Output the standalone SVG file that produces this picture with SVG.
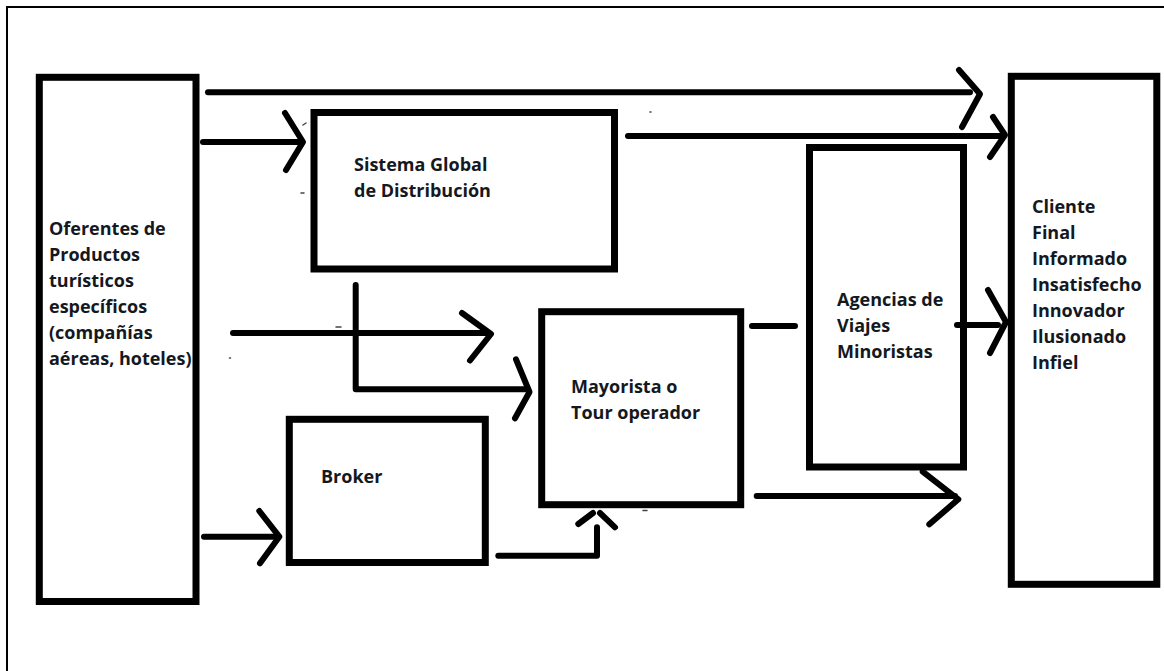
<svg xmlns="http://www.w3.org/2000/svg" width="1164" height="671" viewBox="0 0 1164 671">
  <style>
    .box { fill: #ffffff; stroke: #000000; stroke-width: 7; }
    .frame { fill: #ffffff; stroke: #000000; stroke-width: 2; }
    .wire { fill: none; stroke: #000000; stroke-width: 6; stroke-linecap: round; stroke-linejoin: round; }
    .lbl { font-family: "Open Sans", "Liberation Sans", sans-serif; font-weight: bold; font-size: 18px; fill: #141820; }
    .spec { fill: none; stroke: #444444; stroke-width: 1.5; stroke-linecap: round; }
  </style>
  <rect class="frame" x="7" y="7" width="1180" height="700"/>

  <g id="oferentes">
    <rect class="box" x="39.3" y="77.3" width="156.7" height="524.2"/>
    <text class="lbl" x="49">
      <tspan x="49" y="235">Oferentes de</tspan>
      <tspan x="49" y="261">Productos</tspan>
      <tspan x="49" y="287">turísticos</tspan>
      <tspan x="49" y="313">específicos</tspan>
      <tspan x="49" y="339">(compañías</tspan>
      <tspan x="49" y="365">aéreas, hoteles)</tspan>
    </text>
  </g>

  <g id="sgd">
    <rect class="box" x="314" y="112.5" width="300.5" height="156.5"/>
    <text class="lbl">
      <tspan x="354" y="171">Sistema Global</tspan>
      <tspan x="354" y="197">de Distribución</tspan>
    </text>
  </g>

  <g id="mayorista">
    <rect class="box" x="541.7" y="311.7" width="199" height="193"/>
    <text class="lbl">
      <tspan x="571" y="393">Mayorista o</tspan>
      <tspan x="571" y="419">Tour operador</tspan>
    </text>
  </g>

  <g id="broker">
    <rect class="box" x="289.3" y="419.3" width="196" height="143.2"/>
    <text class="lbl" x="321" y="483">Broker</text>
  </g>

  <g id="agencias">
    <rect class="box" x="809.5" y="147.5" width="154" height="319.5"/>
    <text class="lbl">
      <tspan x="837" y="306">Agencias de</tspan>
      <tspan x="837" y="332">Viajes</tspan>
      <tspan x="837" y="358">Minoristas</tspan>
    </text>
  </g>

  <g id="cliente">
    <rect class="box" x="1011.3" y="76.3" width="145.5" height="508"/>
    <text class="lbl">
      <tspan x="1032" y="213">Cliente</tspan>
      <tspan x="1032" y="239">Final</tspan>
      <tspan x="1032" y="265">Informado</tspan>
      <tspan x="1032" y="291">Insatisfecho</tspan>
      <tspan x="1032" y="317">Innovador</tspan>
      <tspan x="1032" y="343">Ilusionado</tspan>
      <tspan x="1032" y="369">Infiel</tspan>
    </text>
  </g>

  <g id="connectors">
    <!-- Oferentes top line to Cliente -->
    <path class="wire" d="M208 92.3 H970"/>
    <path class="wire" d="M959 70 L980 94 L962 127"/>
    <!-- Oferentes to SGD -->
    <path class="wire" d="M203 142 H301"/>
    <path class="wire" d="M285 113 L303 142 L286 170"/>
    <!-- SGD to Cliente -->
    <path class="wire" d="M628 136 H1000"/>
    <path class="wire" d="M993 117 L1005 135 L990 157"/>
    <!-- Oferentes middle line -->
    <path class="wire" d="M233 333 H487"/>
    <path class="wire" d="M462 313 L491 334 L470 360.5"/>
    <!-- SGD down to Mayorista -->
    <path class="wire" d="M355.7 285 V389.3 H526"/>
    <path class="wire" d="M516 359.3 L529.5 392 L515 418.3"/>
    <!-- Oferentes to Broker -->
    <path class="wire" d="M204 536.7 H277"/>
    <path class="wire" d="M259.3 511 L279.3 536.7 L260 563.3"/>
    <!-- Broker to Mayorista -->
    <path class="wire" d="M498.3 555.7 H597 V527.3"/>
    <path class="wire" d="M578.3 524 L593 513"/>
    <path class="wire" d="M600 513 L615 527.3"/>
    <!-- Mayorista to Agencias -->
    <path class="wire" d="M752 326 H795"/>
    <!-- Agencias to Cliente -->
    <path class="wire" d="M957 325 H998"/>
    <path class="wire" d="M988 290 L1006 322 L990 353"/>
    <!-- Mayorista lower arrow -->
    <path class="wire" d="M756.7 496 H955"/>
    <path class="wire" d="M922.7 471.7 L958.3 499.3 L929.3 524.3"/>
  </g>

  <g id="specks">
    <path class="spec" d="M303 125 L306 123"/>
    <path class="spec" d="M301 193 L304 193"/>
    <path class="spec" d="M336 327 L341 327"/>
    <path class="spec" d="M229.5 358 L230.5 358"/>
    <path class="spec" d="M643 510.5 L647 510.5"/>
    <path class="spec" d="M650 112 L651 112"/>
  </g>
</svg>
